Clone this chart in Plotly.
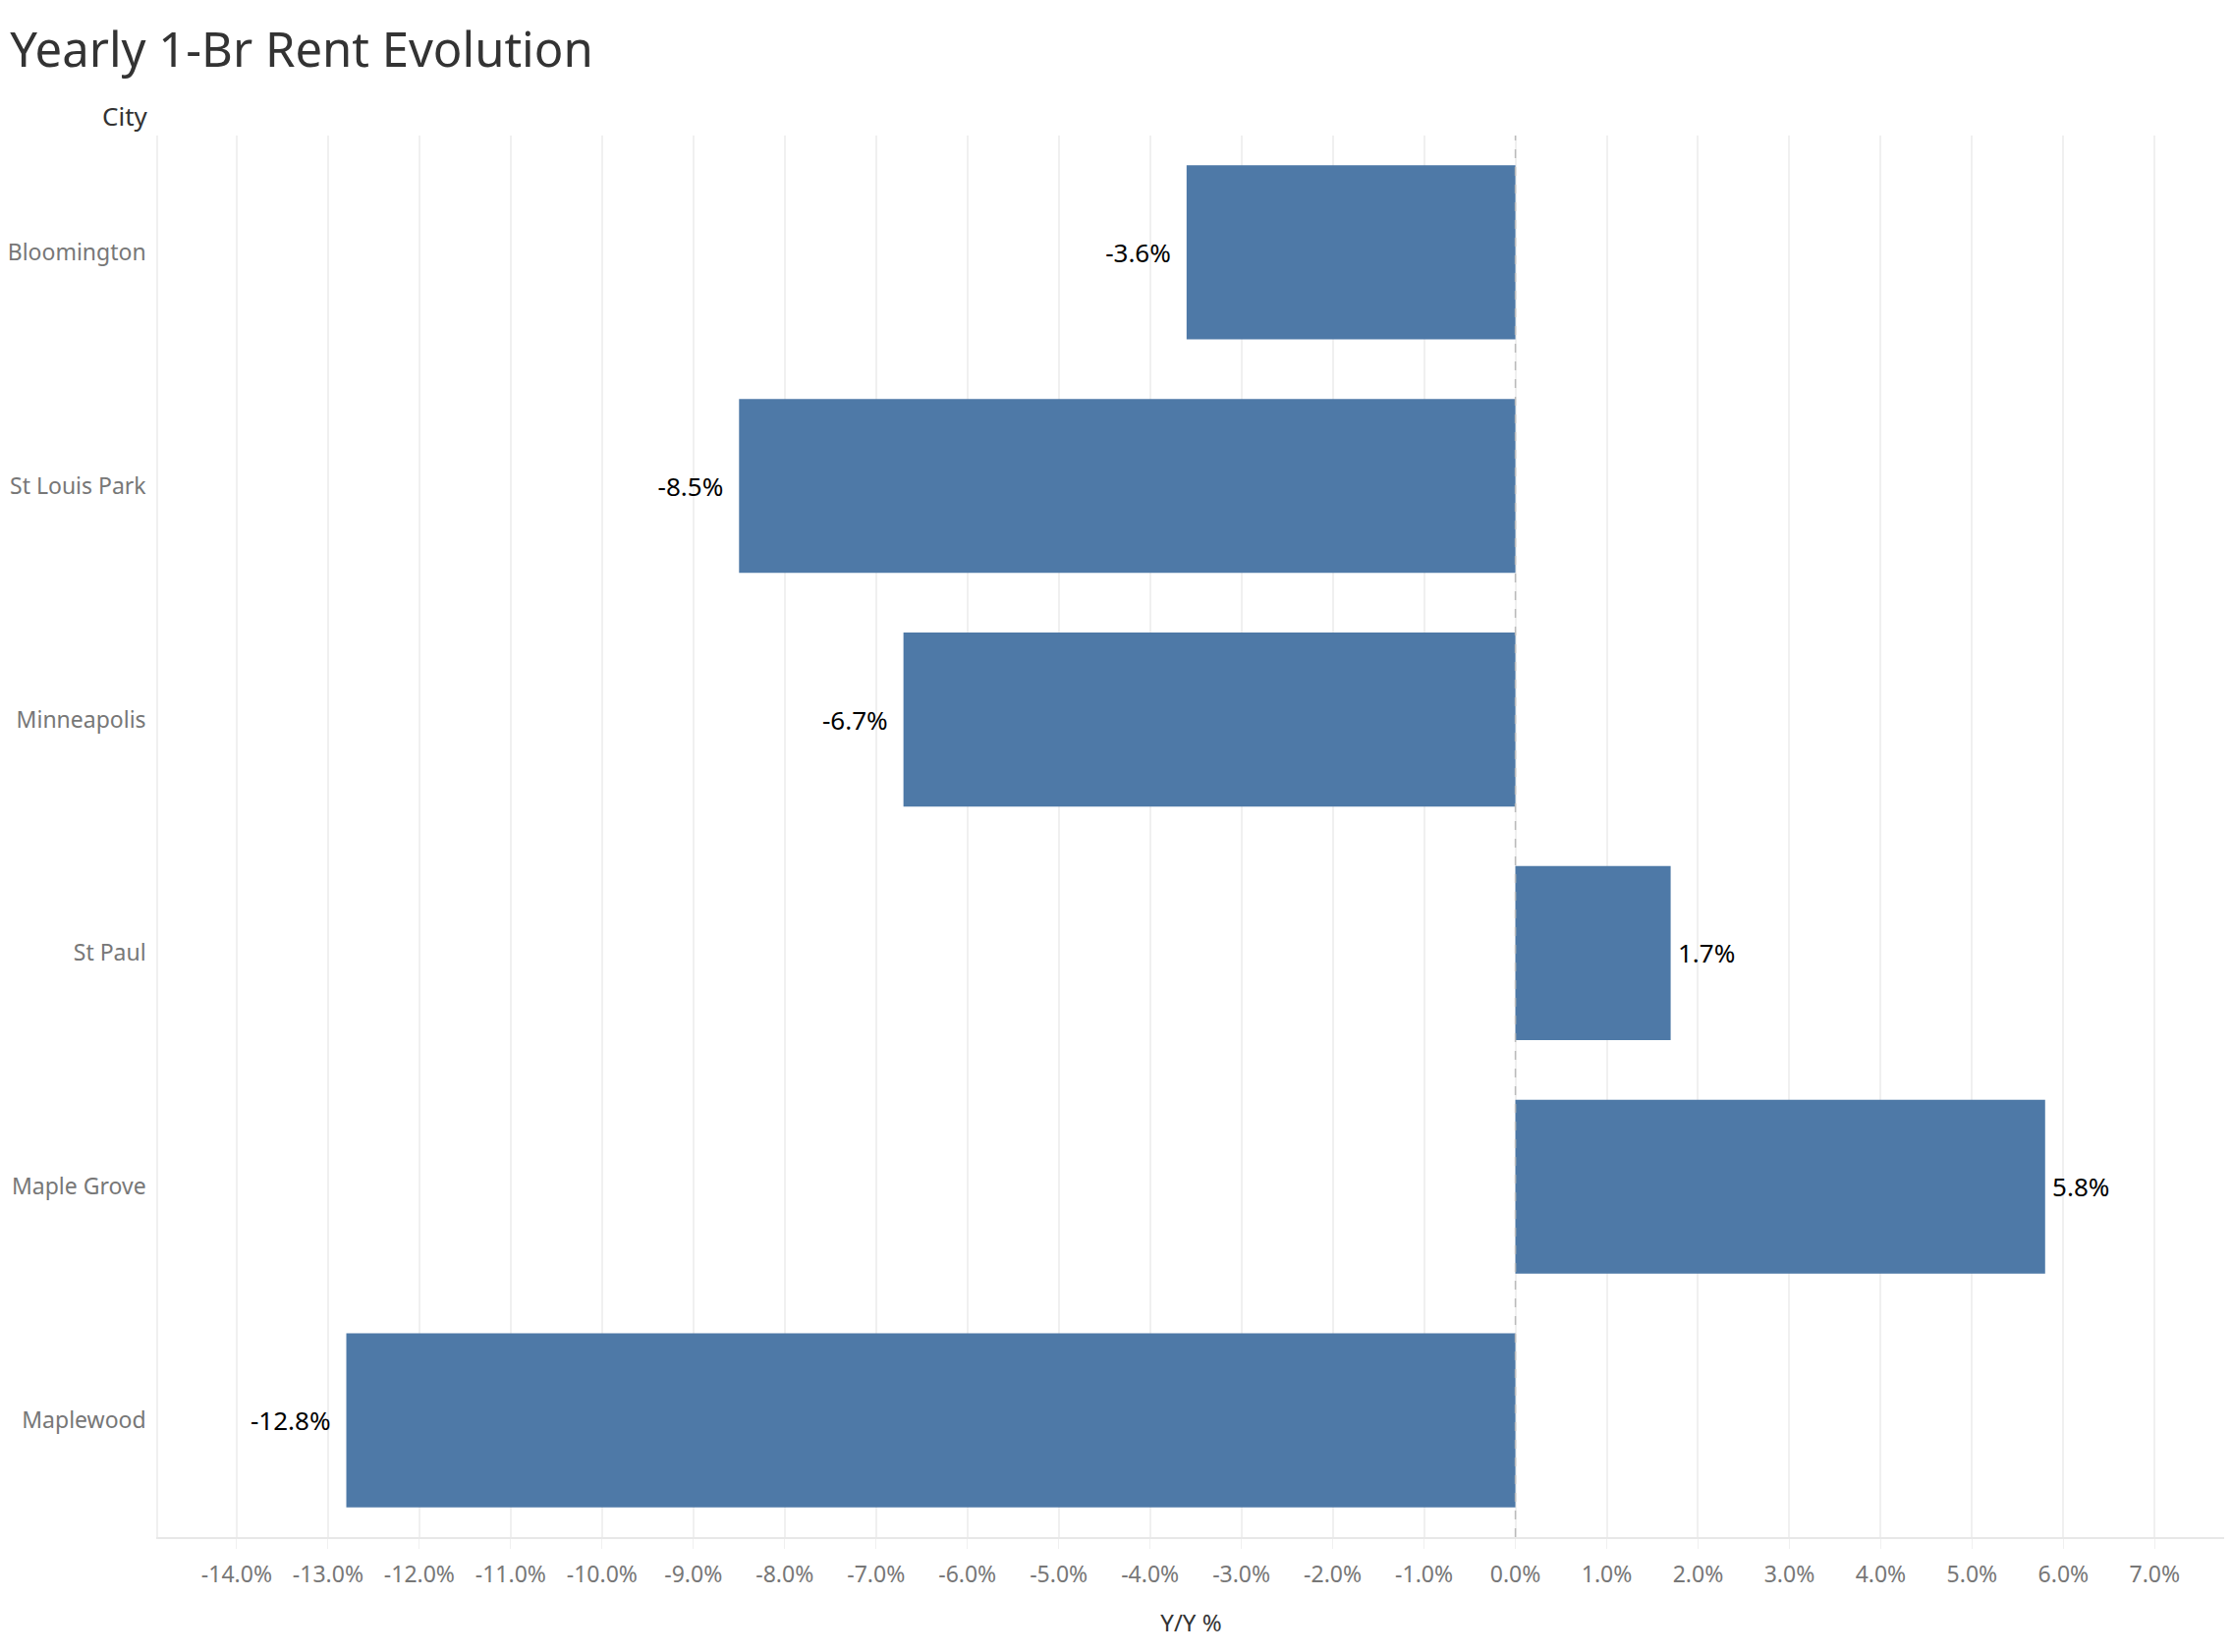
import plotly.graph_objects as go

# Data.
cities = ["Bloomington", "St Louis Park", "Minneapolis", "St Paul", "Maple Grove", "Maplewood"]
yoy_pct = [-3.6, -8.5, -6.7, 1.7, 5.8, -12.8]
tick_vals = list(range(-14, 8))
tick_text = [f"{v:.1f}%" for v in tick_vals]

# Styles.
bar_color = "#4e79a7"
grid_color = "#f0f0f0"
font_family = "Noto Sans, sans-serif"

# Labels sit a little away from the bar ends.
bar_text = [f"{v:.1f}%\u2002" if v < 0 else f"\u2009{v:.1f}%" for v in yoy_pct]

fig = go.Figure()
fig.add_trace(go.Bar(
    x=yoy_pct,
    y=cities,
    orientation="h",
    marker=dict(color=bar_color, line=dict(width=0)),
    width=0.745,
    text=bar_text,
    textposition="outside",
    textfont=dict(color="#000000", size=26, family=font_family),
    cliponaxis=False,
))

# Dashed zero reference line.
fig.add_vline(x=0, line=dict(color="#bbbbbb", width=1.5, dash="dash"), layer="above")

# Page body has an 8px margin, so the figure is offset accordingly.
fig.update_layout(
    width=2256,
    height=1666,
    plot_bgcolor="white",
    paper_bgcolor="white",
    showlegend=False,
    margin=dict(l=151, r=0, t=130, b=109),
    font=dict(family=font_family, color="#666666", size=22),
    title=dict(
        text="Yearly 1-Br Rent Evolution",
        x=0.001, xanchor="left",
        y=0.974, yanchor="middle",
        font=dict(size=49, color="#333333", family=font_family),
    ),
    xaxis=dict(
        range=[-14.86, 7.76],
        tickvals=tick_vals,
        ticktext=tick_text,
        showgrid=True,
        gridcolor=grid_color,
        gridwidth=1.5,
        zeroline=False,
        showline=True,
        linecolor="#e8e8e8",
        linewidth=2,
        ticks="outside",
        ticklen=10,
        tickcolor=grid_color,
        ticklabelstandoff=6,
        tickfont=dict(size=23, color="#777777"),
        title=dict(text="Y/Y %", font=dict(size=24, color="#333333"), standoff=28),
    ),
    yaxis=dict(
        autorange="reversed",
        showgrid=False,
        zeroline=False,
        showline=True,
        linecolor=grid_color,
        linewidth=1.5,
        ticks="",
        tickfont=dict(size=23, color="#777777"),
        ticklabelstandoff=6,
    ),
    annotations=[dict(
        text="City",
        xref="paper", yref="paper",
        x=0, y=1,
        xanchor="right", yanchor="bottom",
        xshift=-8, yshift=0,
        showarrow=False,
        font=dict(size=26, color="#333333"),
    )],
)

fig.write_html("out.html")
